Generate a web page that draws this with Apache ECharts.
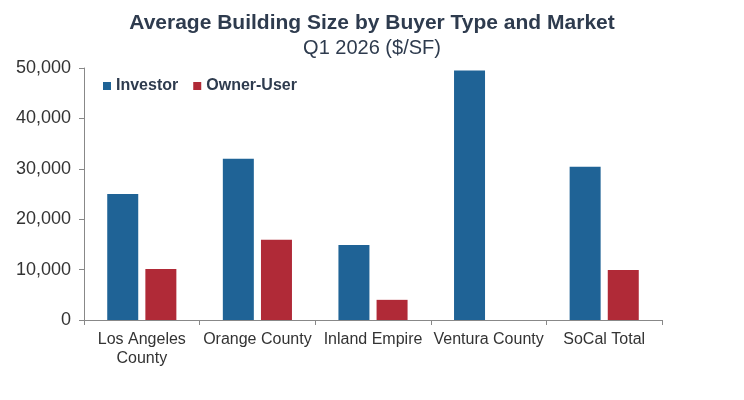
<!DOCTYPE html>
<html>
<head>
<meta charset="utf-8">
<script src="https://cdn.jsdelivr.net/npm/echarts@6/dist/echarts.min.js"></script>
<style>
    html, body { margin: 0; padding: 0; background: #fff; }
    #chart { width: 744px; height: 400px; }
</style>
</head>
<body>
<div id="chart"></div>
<script>
    // markets along the x axis
    let markets = ['Los Angeles\nCounty', 'Orange County', 'Inland Empire', 'Ventura County', 'SoCal Total']
    // average building size, SF
    let investor = [25000, 32000, 14900, 49500, 30400]
    let ownerUser = [10100, 15900, 4000, null, 9900]
    let yTicks = [0, 10000, 20000, 30000, 40000, 50000]

    let font = 'Liberation Sans, Arial, sans-serif'
    let mychart = echarts.init(document.getElementById('chart'))
    let option = {
        color: ['#1f6396', '#b02a37'],
        textStyle: { fontFamily: font },
        title: {
            text: 'Average Building Size by Buyer Type and Market',
            subtext: 'Q1 2026 ($/SF)',
            left: 'center',
            top: 8,
            itemGap: 4,
            textStyle: { fontFamily: font, fontSize: 21, fontWeight: 'bold', color: '#2e3b4e' },
            subtextStyle: { fontFamily: font, fontSize: 20, color: '#2e3b4e' }
        },
        legend: {
            left: 98,
            top: 73,
            itemWidth: 8,
            itemHeight: 8,
            itemGap: 15,
            icon: 'rect',
            textStyle: { fontFamily: font, fontSize: 16, fontWeight: 'bold', color: '#2e3b4e' },
            data: ['Investor', 'Owner-User']
        },
        grid: {
            left: 84,
            right: 82,
            top: 68,
            bottom: 80,
            containLabel: false
        },
        xAxis: {
            type: 'category',
            data: markets,
            axisLine: { lineStyle: { color: '#888' } },
            axisTick: { show: true, length: 5, lineStyle: { color: '#888' } },
            axisLabel: { fontFamily: font, fontSize: 16, color: '#333', margin: 10, lineHeight: 19, interval: 0 }
        },
        yAxis: {
            type: 'value',
            min: yTicks[0],
            max: yTicks[yTicks.length - 1],
            interval: yTicks[1] - yTicks[0],
            splitLine: { show: false },
            axisLine: { show: true, lineStyle: { color: '#888' } },
            axisTick: { show: true, length: 5, lineStyle: { color: '#888' } },
            axisLabel: {
                fontFamily: font,
                fontSize: 18,
                color: '#333',
                margin: 13,
                formatter: function (v) { return v.toLocaleString('en-US') }
            }
        },
        series: [
            {
                name: 'Investor',
                type: 'bar',
                data: investor,
                barWidth: 31,
                barGap: '23%'
            },
            {
                name: 'Owner-User',
                type: 'bar',
                data: ownerUser,
                barWidth: 31,
                barGap: '23%'
            }
        ]
    }
    mychart.setOption(option)
</script>
</body>
</html>
